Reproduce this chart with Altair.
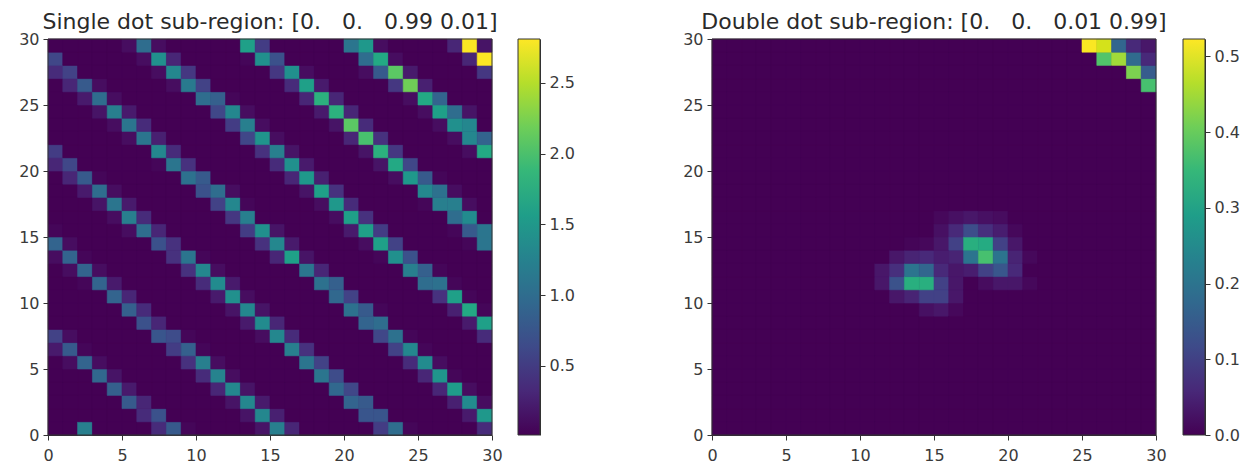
import altair as alt
import pandas as pd

GRID = 30
# Rows run from the top of the image (y=29) down to y=0; each row lists (column, value).
single_rows = [
 [(5,.1),(6,1.0),(7,.1),(13,1.6),(14,.5),(20,1.1),(21,1.5),(22,.1),(27,.3),(28,2.8),(29,.15)],
 [(0,.6),(6,.1),(7,1.4),(8,.3),(13,.05),(14,1.4),(15,.7),(21,1.0),(22,1.7),(23,.1),(28,.3),(29,2.8)],
 [(0,.35),(1,.55),(7,.1),(8,1.3),(9,.45),(15,.45),(16,1.4),(17,.1),(21,.1),(22,.8),(23,2.1),(24,.2),(29,.45)],
 [(1,.3),(2,.8),(3,.1),(8,.1),(9,1.15),(10,.55),(16,.35),(17,1.6),(18,.2),(23,.45),(24,2.2),(25,.25)],
 [(2,.2),(3,1.0),(4,.1),(10,1.0),(11,.85),(12,.05),(17,.3),(18,1.8),(19,.3),(24,.1),(25,1.7),(26,.9)],
 [(3,.15),(4,1.2),(5,.2),(11,.6),(12,1.3),(13,.1),(18,.2),(19,1.8),(20,.3),(25,.1),(26,1.6),(27,1.0),(28,.15)],
 [(4,.1),(5,1.1),(6,.35),(12,.5),(13,1.2),(14,.1),(19,.15),(20,2.1),(21,.35),(26,.1),(27,1.4),(28,1.3)],
 [(5,.1),(6,1.1),(7,.25),(13,.6),(14,1.45),(15,.1),(20,.3),(21,2.0),(22,.4),(27,.1),(28,1.3),(29,.9)],
 [(0,.5),(7,1.3),(8,.35),(14,.4),(15,1.2),(16,.15),(21,.15),(22,1.8),(23,.45),(28,.1),(29,1.7)],
 [(0,.3),(1,.6),(7,.05),(8,1.1),(9,.4),(15,.35),(16,1.4),(17,.2),(22,.15),(23,1.7),(24,.6)],
 [(1,.3),(2,.8),(3,.05),(9,1.05),(10,.8),(16,.3),(17,1.5),(18,.25),(23,.1),(24,1.5),(25,.8),(26,.05)],
 [(2,.2),(3,1.0),(4,.1),(10,.7),(11,1.0),(12,.1),(17,.15),(18,1.6),(19,.4),(25,1.3),(26,1.05),(27,.1)],
 [(3,.15),(4,1.1),(5,.2),(11,.55),(12,1.3),(13,.05),(18,.1),(19,1.5),(20,.35),(25,.05),(26,1.2),(27,1.2),(28,.1)],
 [(4,.1),(5,1.2),(6,.35),(12,.45),(13,1.2),(19,.1),(20,1.6),(21,.4),(27,1.0),(28,1.35)],
 [(0,.05),(5,.1),(6,1.0),(7,.3),(13,.5),(14,1.4),(15,.15),(20,.2),(21,1.6),(22,.5),(27,.05),(28,.8),(29,1.1)],
 [(0,.9),(1,.1),(7,.7),(8,.4),(14,.4),(15,1.3),(16,.2),(21,.1),(22,1.6),(23,.55),(28,.05),(29,1.1)],
 [(0,.1),(1,.9),(2,.05),(8,.4),(9,1.1),(10,.05),(15,.3),(16,1.6),(17,.15),(22,.05),(23,1.4),(24,.7)],
 [(1,.1),(2,.9),(3,.1),(9,.4),(10,1.3),(11,.1),(17,1.1),(18,.3),(24,1.2),(25,.85),(26,.05)],
 [(2,.05),(3,.9),(4,.2),(10,.35),(11,1.35),(12,.2),(18,1.05),(19,.85),(25,1.0),(26,1.05),(27,.05)],
 [(4,.9),(5,.3),(11,.2),(12,1.4),(13,.1),(19,.95),(20,.55),(26,.4),(27,1.6),(28,.05)],
 [(5,.85),(6,.35),(12,.15),(13,1.3),(14,.15),(20,1.05),(21,.8),(22,.05),(27,.25),(28,1.7),(29,.05)],
 [(6,.7),(7,.3),(13,.2),(14,1.35),(15,.3),(21,.9),(22,1.0),(28,.2),(29,1.6)],
 [(0,.55),(1,.1),(7,.75),(8,.65),(9,.05),(14,.1),(15,1.3),(16,.35),(22,.6),(23,1.05),(24,.05),(29,.35)],
 [(0,.2),(1,.8),(2,.05),(8,.5),(9,.85),(10,.05),(16,1.2),(17,.4),(23,.55),(24,1.3),(25,.05)],
 [(1,.1),(2,.9),(3,.1),(9,.4),(10,1.2),(11,.1),(17,1.1),(18,.55),(24,.35),(25,1.35),(26,.1)],
 [(3,.95),(4,.15),(10,.35),(11,1.25),(12,.1),(18,1.1),(19,.65),(25,.3),(26,1.45),(27,.05)],
 [(4,.85),(5,.2),(11,.3),(12,1.3),(13,.15),(19,.95),(20,.6),(26,.3),(27,1.55),(28,.1)],
 [(5,.8),(6,.3),(12,.15),(13,1.3),(14,.2),(20,.9),(21,.8),(27,.25),(28,1.35),(29,.1)],
 [(6,.35),(7,.7),(13,.15),(14,1.3),(15,.25),(21,.75),(22,.75),(28,.2),(29,1.5)],
 [(2,1.2),(7,.35),(8,.8),(9,.05),(14,.15),(15,1.2),(16,.3),(22,.5),(23,1.0),(24,.05),(29,.35)],
]
# Same layout; only rows that leave the background are listed, keyed by y.
double_rows = {
 29: [(25,.52),(26,.49),(27,.17),(28,.06),(29,.03)],
 28: [(26,.38),(27,.45),(28,.18),(29,.06)],
 27: [(28,.42),(29,.15)],
 26: [(29,.37)],
 16: [(15,.01),(16,.02),(17,.03),(18,.02),(19,.015)],
 15: [(15,.02),(16,.06),(17,.12),(18,.07),(19,.04),(20,.01)],
 14: [(13,.005),(14,.01),(15,.03),(16,.1),(17,.33),(18,.32),(19,.1),(20,.03)],
 13: [(12,.03),(13,.05),(14,.06),(15,.04),(16,.05),(17,.2),(18,.37),(19,.2),(20,.05),(21,.01)],
 12: [(11,.03),(12,.07),(13,.2),(14,.17),(15,.06),(16,.03),(17,.04),(18,.1),(19,.14),(20,.06)],
 11: [(11,.03),(12,.13),(13,.33),(14,.33),(15,.1),(16,.03),(18,.015),(19,.03),(20,.03),(21,.01)],
 10: [(12,.03),(13,.05),(14,.1),(15,.1),(16,.03)],
 9: [(14,.02),(15,.03),(16,.01)],
}

heat_ticks = [0, 5, 10, 15, 20, 25, 30]
single_range = [0.012, 2.81]
double_range = [0.0, 0.523]
single_bar_ticks = [0.5, 1.0, 1.5, 2.0, 2.5]
double_bar_ticks = [0.0, 0.1, 0.2, 0.3, 0.4, 0.5]
single_title = "Single dot sub-region: [0.\u00a0\u00a0\u00a00.\u00a0\u00a0\u00a00.99 0.01]"
double_title = "Double dot sub-region: [0.\u00a0\u00a0\u00a00.\u00a0\u00a0\u00a00.01 0.99]"
viridis = ["#440154", "#482878", "#3e4a89", "#31688e", "#26828e",
           "#1f9e89", "#35b779", "#6ece58", "#b5de2b", "#fde725"]

FONT = "DejaVu Sans"
INK = "#333333"
TICK_TEXT = "#3a3a3a"


def table(cells_by_y, floor):
    grid = {(c, y): floor for c in range(GRID) for y in range(GRID)}
    for y, cells in cells_by_y.items():
        for c, v in cells:
            grid[(c, y)] = v
    return pd.DataFrame(
        [{"x": c, "x2": c + 1, "y": y, "y2": y + 1, "v": v} for (c, y), v in grid.items()]
    )


def heat(df, rng, title):
    axis = dict(values=heat_ticks, grid=False, format="d", title=None, labelAngle=0, labelFlush=False)
    scale = alt.Scale(domain=[0, GRID], nice=False, zero=False)
    viridis_scale = alt.Scale(scheme="viridis", domain=rng, clamp=True)
    cells = (
        alt.Chart(df)
        .mark_rect(strokeWidth=0.6)
        .encode(
            x=alt.X("x:Q", scale=scale, axis=alt.Axis(**axis, labelPadding=7)),
            x2="x2:Q",
            y=alt.Y("y:Q", scale=scale, axis=alt.Axis(**axis, minExtent=31, maxExtent=31)),
            y2="y2:Q",
            color=alt.Color("v:Q", scale=viridis_scale, legend=None),
            stroke=alt.Stroke("v:Q", scale=viridis_scale, legend=None),
        )
    )
    frame = (
        alt.Chart(pd.DataFrame({"a": [0], "b": [GRID]}))
        .mark_rect(fill="transparent", stroke=INK, strokeWidth=1)
        .encode(
            x=alt.X("a:Q", scale=scale),
            x2="b:Q",
            y=alt.Y("a:Q", scale=scale),
            y2="b:Q",
        )
    )
    return alt.layer(cells, frame).properties(
        width=444, height=396,
        title=alt.TitleParams(title, anchor="middle", frame="group", offset=0, dy=3, limit=700),
    )


def colorbar(rng, ticks):
    gradient = alt.Gradient(
        gradient="linear",
        stops=[alt.GradientStop(offset=i / (len(viridis) - 1), color=c) for i, c in enumerate(viridis)],
        x1=0, x2=0, y1=1, y2=0,
    )
    df = pd.DataFrame({"lo": [rng[0]], "hi": [rng[1]]})
    return (
        alt.Chart(df)
        .mark_rect(color=gradient, stroke=INK, strokeWidth=1)
        .encode(
            y=alt.Y(
                "lo:Q",
                scale=alt.Scale(domain=rng, nice=False, zero=False),
                axis=alt.Axis(orient="right", values=ticks, format=".1f", grid=False, title=None,
                              minExtent=36, maxExtent=36),
            ),
            y2="hi:Q",
        )
        .properties(width=22, height=396)
    )


single_df = table({GRID - 1 - i: r for i, r in enumerate(single_rows)}, single_range[0])
double_df = table(double_rows, double_range[0])

left = alt.hconcat(heat(single_df, single_range, single_title), colorbar(single_range, single_bar_ticks), spacing=14)
right = alt.hconcat(heat(double_df, double_range, double_title), colorbar(double_range, double_bar_ticks), spacing=15)

chart = (
    alt.hconcat(left, right, spacing=105)
    .resolve_scale(color="independent", stroke="independent")
    .properties(padding={"left": 9, "top": 3, "right": 0, "bottom": 0}, background="white")
    .configure_view(stroke=None, fill=viridis[0])
    .configure_axis(
        labelFont=FONT, labelFontSize=16, labelColor=TICK_TEXT,
        domainColor=INK, tickColor=INK, tickSize=5, labelPadding=4,
    )
    .configure_title(font=FONT, fontSize=22, fontWeight="normal", color="#2a2a2a")
)

chart.save("out.html", embed_options={"renderer": "svg", "actions": False})
